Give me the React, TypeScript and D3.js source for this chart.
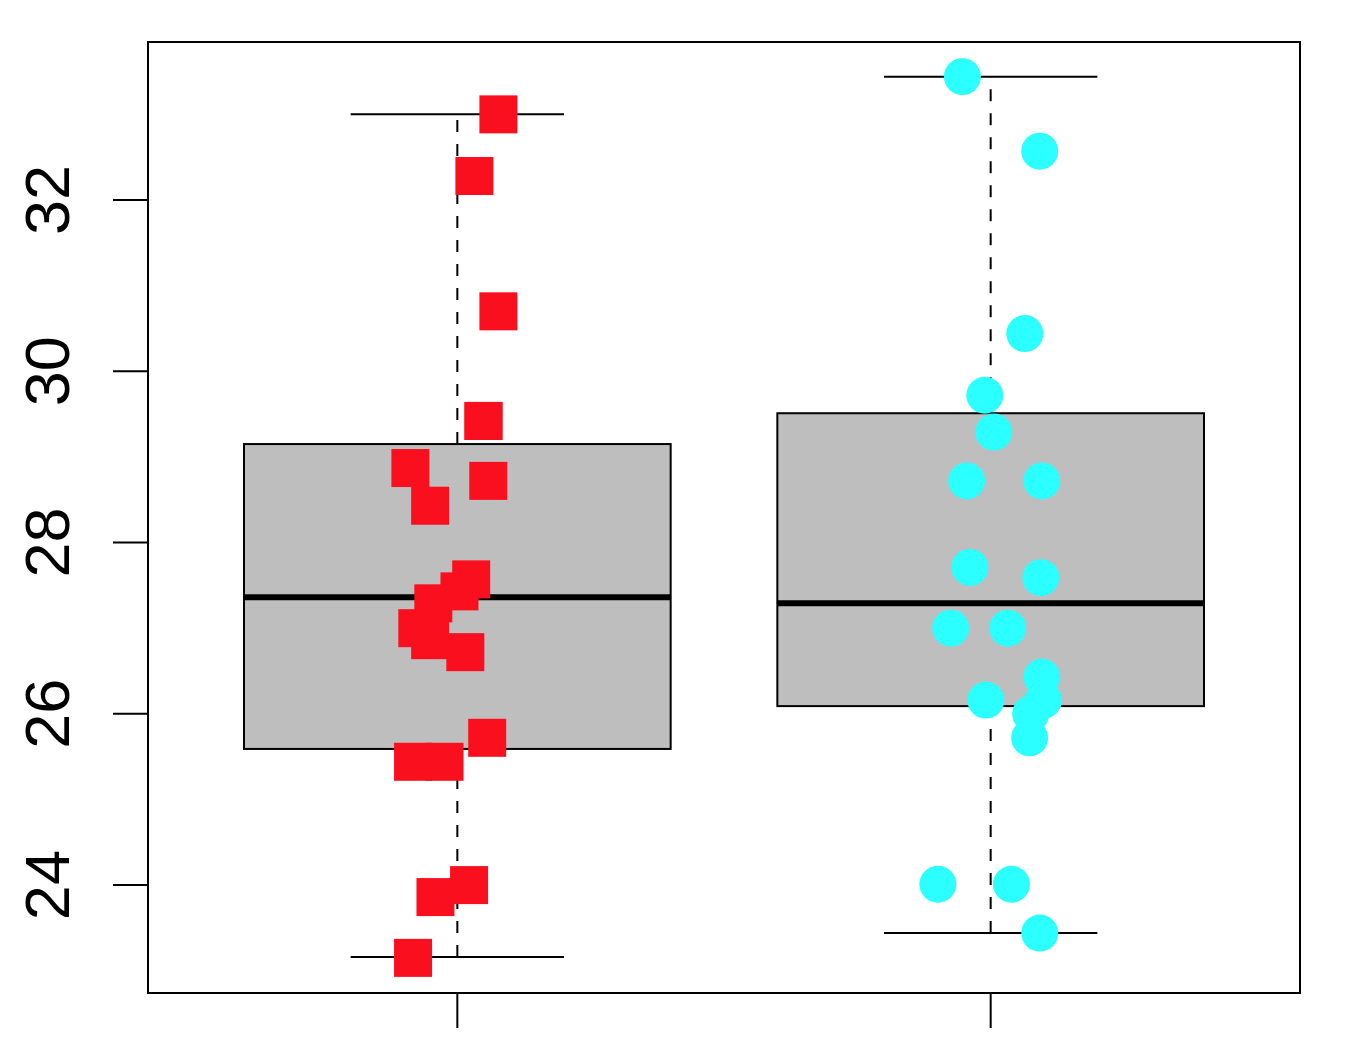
import React from "react";
import * as d3 from "d3";

const categories = ["A", "B"];
// box stats: [lowerWhisker, Q1, median, Q3, upperWhisker]
const boxStatsA = [23.16, 25.59, 27.36, 29.15, 33.0];
const boxStatsB = [23.44, 26.09, 27.29, 29.51, 33.44];

const valuesA = [33.0, 32.28, 30.7, 29.42, 28.87, 28.72, 28.43, 27.57, 27.43, 27.29, 27.0, 26.86, 26.72, 25.72, 25.44, 25.44, 24.0, 23.86, 23.15, 29.42];
const jitterA = [0.077, 0.032, 0.077, 0.049, -0.088, 0.058, -0.051, 0.026, 0.004, -0.045, -0.075, -0.051, 0.015, 0.056, -0.083, -0.024, 0.022, -0.041, -0.083, 0.049];

const valuesB = [33.44, 32.57, 30.44, 29.72, 29.29, 28.72, 28.72, 27.71, 27.59, 27.0, 27.0, 26.43, 26.16, 26.16, 26.0, 25.72, 24.01, 24.01, 23.44];
const jitterB = [-0.053, 0.092, 0.064, -0.011, 0.006, -0.045, 0.096, -0.039, 0.094, -0.075, 0.032, 0.096, -0.009, 0.099, 0.075, 0.073, -0.099, 0.039, 0.092];

const yTicks = [24, 26, 28, 30, 32];

const W = 1356, H = 1044;
const left = 148, right = 1300, top = 42, bottom = 993;

export default function App() {
  const x = d3.scaleLinear().domain([0.42, 2.58]).range([left, right]);
  const y = d3.scaleLinear().domain([22.74, 33.845]).range([bottom, top]);
  const boxHalf = 0.4;
  const wHalf = 0.2;
  const stats = [boxStatsA, boxStatsB];
  const red = "#FA0F1F";
  const cyan = "#2BFFFF";
  const sq = 38;
  const r = 18.5;

  return (
    <svg width={W} height={H} style={{ position: "absolute", left: 0, top: 0, background: "#fff" }}
      fontFamily="'Liberation Sans', Arial, sans-serif">
      {stats.map((s, i) => {
        const c = i + 1;
        return (
          <g key={categories[i]}>
            <line x1={x(c)} x2={x(c)} y1={y(s[0])} y2={y(s[1])} stroke="#000" strokeWidth={2} strokeDasharray="12,12" />
            <line x1={x(c)} x2={x(c)} y1={y(s[3])} y2={y(s[4])} stroke="#000" strokeWidth={2} strokeDasharray="12,12" />
            <line x1={x(c - wHalf)} x2={x(c + wHalf)} y1={y(s[0])} y2={y(s[0])} stroke="#000" strokeWidth={2} />
            <line x1={x(c - wHalf)} x2={x(c + wHalf)} y1={y(s[4])} y2={y(s[4])} stroke="#000" strokeWidth={2} />
            <rect x={x(c - boxHalf)} y={y(s[3])} width={x(c + boxHalf) - x(c - boxHalf)} height={y(s[1]) - y(s[3])}
              fill="#BEBEBE" stroke="#000" strokeWidth={2} />
            <line x1={x(c - boxHalf)} x2={x(c + boxHalf)} y1={y(s[2])} y2={y(s[2])} stroke="#000" strokeWidth={6} />
          </g>
        );
      })}
      {valuesA.map((v, i) => (
        <rect key={"a" + i} x={x(1 + jitterA[i]) - sq / 2} y={y(v) - sq / 2} width={sq} height={sq} fill={red} />
      ))}
      {valuesB.map((v, i) => (
        <circle key={"b" + i} cx={x(2 + jitterB[i])} cy={y(v)} r={r} fill={cyan} />
      ))}
      <rect x={left} y={top} width={right - left} height={bottom - top} fill="none" stroke="#000" strokeWidth={2} />
      {yTicks.map((t) => (
        <g key={t}>
          <line x1={left - 35} x2={left} y1={y(t)} y2={y(t)} stroke="#000" strokeWidth={2} />
          <text transform={`translate(69,${y(t)}) rotate(-90)`} textAnchor="middle" fontSize={63} fill="#000">{t}</text>
        </g>
      ))}
      {categories.map((c, i) => (
        <line key={c} x1={x(i + 1)} x2={x(i + 1)} y1={bottom} y2={bottom + 35} stroke="#000" strokeWidth={2} />
      ))}
    </svg>
  );
}
